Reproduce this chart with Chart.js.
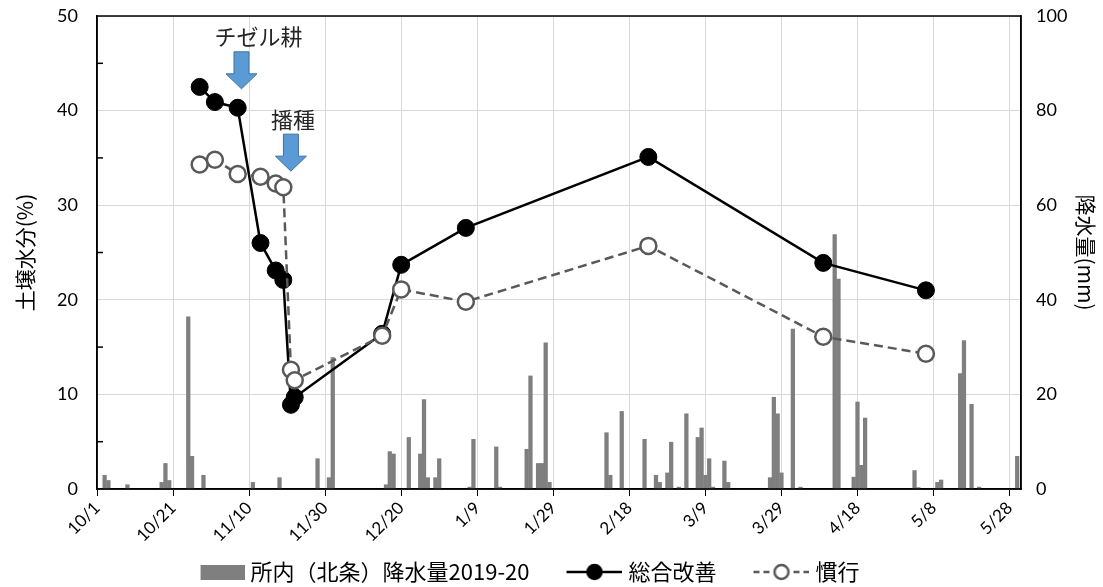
<!DOCTYPE html>
<html>
<head>
<meta charset="utf-8">
<script src="https://cdn.jsdelivr.net/npm/chart.js@4"></script>
<style>
  html, body { margin: 0; padding: 0; background: #fff; }
</style>
</head>
<body>
<canvas id="soilChart" width="1103" height="587"></canvas>
<script>
// x axis ticks (every 20 days from 2019/10/1)
const tickLabels = ['10/1', '10/21', '11/10', '11/30', '12/20', '1/9', '1/29', '2/18', '3/9', '3/29', '4/18', '5/8', '5/28'];

// daily rainfall at the station (mm)
const rainDates = ['10/3', '10/4', '10/9', '10/18', '10/19', '10/20', '10/25', '10/26', '10/29',
  '11/11', '11/18', '11/28', '12/1', '12/2', '12/16', '12/17', '12/18', '12/22', '12/25', '12/26',
  '12/27', '12/29', '12/30', '1/7', '1/8', '1/14', '1/15', '1/22', '1/23', '1/25', '1/26', '1/27',
  '1/28', '2/12', '2/13', '2/16', '2/22', '2/25', '2/26', '2/28', '2/29', '3/2', '3/4', '3/7',
  '3/8', '3/9', '3/10', '3/11', '3/14', '3/15', '3/26', '3/27', '3/28', '3/29', '4/1', '4/3',
  '4/12', '4/13', '4/17', '4/18', '4/19', '4/20', '5/3', '5/4', '5/9', '5/10', '5/15', '5/16',
  '5/18', '5/20', '5/30'];
const rainMm = [2.9, 1.8, 0.9, 1.4, 5.4, 1.8, 36.4, 6.9, 2.9,
  1.4, 2.4, 6.4, 2.4, 27.8, 0.9, 7.9, 7.4, 10.9, 7.4, 18.9,
  2.4, 2.4, 6.4, 0.4, 10.5, 8.9, 0.4, 8.4, 23.9, 5.4, 5.4, 30.9,
  1.4, 11.9, 2.9, 16.4, 10.5, 2.9, 1.4, 3.4, 9.9, 0.4, 15.9, 10.9,
  12.9, 2.9, 6.4, 0.4, 5.9, 1.4, 2.4, 19.4, 15.9, 3.4, 33.8, 0.4,
  53.8, 44.4, 2.5, 18.4, 5.0, 15.0, 3.9, 0.3, 1.4, 1.9, 24.4, 31.4,
  17.9, 0.4, 6.9];

// soil moisture measurements (%)
const sampleDates = ['10/28', '11/1', '11/7', '11/13', '11/17', '11/19', '11/21', '11/22', '12/15', '12/20', '1/6', '2/23', '4/9', '5/6'];
const sogoKaizen = [42.5, 40.9, 40.3, 26.0, 23.1, 22.1, 8.9, 9.7, 16.4, 23.7, 27.6, 35.1, 23.9, 21.0];
const kanko = [34.3, 34.8, 33.3, 33.0, 32.3, 31.9, 12.6, 11.5, 16.2, 21.1, 19.8, 25.7, 16.1, 14.3];

// field work notes
const noteLabels = ['チゼル耕', '播種'];
const noteDates = ['11/8', '11/21'];
const noteTips = [42.3, 33.6];

const dayOf = s => {
  const [m, d] = s.split('/').map(Number);
  const y = m >= 10 ? 2019 : 2020;
  return (Date.UTC(y, m - 1, d) - Date.UTC(2019, 9, 1)) / 864e5;
};
const tickDays = tickLabels.map(dayOf);

const jp = '"Noto Sans CJK JP", sans-serif';
const num = 'Lato, "Noto Sans CJK JP", sans-serif';

// legend icons: drawn 5px wider on each side than the legend box
function legendIcon(kind) {
  const c = document.createElement('canvas');
  c.width = 90; c.height = 22;
  const g = c.getContext('2d');
  if (kind === 'bar') {
    g.fillStyle = '#7f7f7f';
    g.fillRect(46, 4, 44, 15);
    return c;
  }
  g.lineWidth = 2.5;
  g.strokeStyle = kind === 'solid' ? '#000' : '#595959';
  if (kind === 'dash') g.setLineDash([6, 4]);
  g.beginPath(); g.moveTo(34, 11); g.lineTo(90, 11); g.stroke();
  g.setLineDash([]);
  g.beginPath(); g.arc(62, 11, 7, 0, Math.PI * 2);
  g.fillStyle = kind === 'solid' ? '#000' : '#fff';
  g.fill(); g.stroke();
  return c;
}
const icons = [legendIcon('bar'), legendIcon('solid'), legendIcon('dash')];

const noPad = s => { s.paddingTop = 0; s.paddingBottom = 0; };

const frameAndNotes = {
  id: 'frameAndNotes',
  afterLayout(chart) {
    // nudge legend so it sits like the original
    chart.legend.left -= 42;
    chart.legend.right -= 42;
    chart.legend.top += 6;
    chart.legend.bottom += 6;
  },
  afterDatasetsDraw(chart) {
    const { ctx, chartArea: a, scales } = chart;
    ctx.save();
    // inner minor ticks on left axis
    ctx.strokeStyle = '#000';
    ctx.lineWidth = 1.5;
    for (let v = 5; v < 50; v += 10) {
      const y = scales.y.getPixelForValue(v);
      ctx.beginPath(); ctx.moveTo(a.left, y); ctx.lineTo(a.left + 6, y); ctx.stroke();
    }
    ctx.strokeRect(a.left, a.top, a.right - a.left, a.bottom - a.top);

    // arrows with labels
    const textShift = [17, 2];
    noteLabels.forEach((label, i) => {
      const x = scales.x.getPixelForValue(dayOf(noteDates[i]));
      const tip = scales.y.getPixelForValue(noteTips[i]);
      const top = tip - 37, neck = tip - 15;
      ctx.beginPath();
      ctx.moveTo(x - 7.5, top); ctx.lineTo(x + 7.5, top); ctx.lineTo(x + 7.5, neck);
      ctx.lineTo(x + 15.5, neck); ctx.lineTo(x, tip); ctx.lineTo(x - 15.5, neck);
      ctx.lineTo(x - 7.5, neck); ctx.closePath();
      ctx.fillStyle = '#5b9bd5';
      ctx.fill();
      ctx.strokeStyle = '#41719c';
      ctx.lineWidth = 1;
      ctx.stroke();
      ctx.fillStyle = '#262626';
      ctx.font = '22px ' + jp;
      ctx.textAlign = 'center';
      ctx.textBaseline = 'middle';
      ctx.fillText(label, x + textShift[i], tip - 52);
    });
    ctx.restore();
  }
};

const ctx = document.getElementById('soilChart').getContext('2d');
new Chart(ctx, {
  data: {
    datasets: [
      {
        type: 'line',
        label: '慣行',
        data: sampleDates.map((d, i) => ({ x: dayOf(d), y: kanko[i] })),
        yAxisID: 'y',
        borderColor: '#595959',
        borderWidth: 2.5,
        borderDash: [9, 5],
        pointRadius: 8,
        pointBackgroundColor: '#fff',
        pointBorderColor: '#595959',
        pointBorderWidth: 2.5,
        order: 1,
      },
      {
        type: 'line',
        label: '総合改善',
        data: sampleDates.map((d, i) => ({ x: dayOf(d), y: sogoKaizen[i] })),
        yAxisID: 'y',
        borderColor: '#000',
        borderWidth: 2.5,
        pointRadius: 8.5,
        pointBackgroundColor: '#000',
        pointBorderColor: '#000',
        pointBorderWidth: 1,
        order: 2,
      },
      {
        type: 'bar',
        label: '所内（北条）降水量2019-20',
        data: rainDates.map((d, i) => ({ x: dayOf(d), y: rainMm[i] })),
        yAxisID: 'y2',
        backgroundColor: '#7f7f7f',
        barThickness: 3.6,
        order: 3,
      },
    ],
  },
  options: {
    responsive: false,
    animation: false,
    devicePixelRatio: 1,
    layout: { padding: { top: 16, left: 0, right: 0, bottom: 0 } },
    scales: {
      x: {
        type: 'linear',
        offset: false,
        min: 0,
        max: dayOf('5/31'),
        afterBuildTicks: s => { s.ticks = tickDays.map(v => ({ value: v })); },
        ticks: {
          callback: v => tickLabels[tickDays.indexOf(v)],
          autoSkip: false,
          maxRotation: 45,
          minRotation: 45,
          padding: 2,
          color: '#000',
          font: { family: num, size: 17 },
        },
        grid: { offset: false, color: '#d9d9d9', tickColor: '#000', tickLength: 7 },
        border: { color: '#000', width: 1.5 },
        afterFit: s => { s.height = 58; },
      },
      y: {
        position: 'left',
        min: 0,
        max: 50,
        ticks: { stepSize: 10, padding: 19, color: '#000', font: { family: num, size: 18 } },
        grid: { color: '#d9d9d9', drawTicks: false },
        border: { color: '#000', width: 1.5 },
        title: { display: true, text: '土壌水分(%)', color: '#000', font: { family: jp, size: 21 }, padding: { top: 12 } },
        afterFit: s => { s.width = 97; noPad(s); },
      },
      y2: {
        position: 'right',
        min: 0,
        max: 100,
        ticks: { stepSize: 20, padding: 15, color: '#000', font: { family: num, size: 18 } },
        grid: { drawOnChartArea: false, drawTicks: false },
        border: { color: '#000', width: 1.5 },
        title: { display: true, text: '降水量(mm)', color: '#000', font: { family: jp, size: 21 }, padding: { top: 4 } },
        afterFit: s => { s.width = 82; noPad(s); },
      },
    },
    plugins: {
      legend: {
        position: 'bottom',
        labels: {
          usePointStyle: true,
          pointStyleWidth: 80,
          padding: 8,
          color: '#000',
          font: { family: jp, size: 22 },
          generateLabels: chart => [2, 1, 0].map((di, k) => ({
            text: chart.data.datasets[di].label,
            pointStyle: icons[k],
            datasetIndex: di,
            fontColor: '#000',
            lineWidth: 0,
          })),
        },
      },
      tooltip: { enabled: false },
    },
  },
  plugins: [frameAndNotes],
});
</script>
</body>
</html>
